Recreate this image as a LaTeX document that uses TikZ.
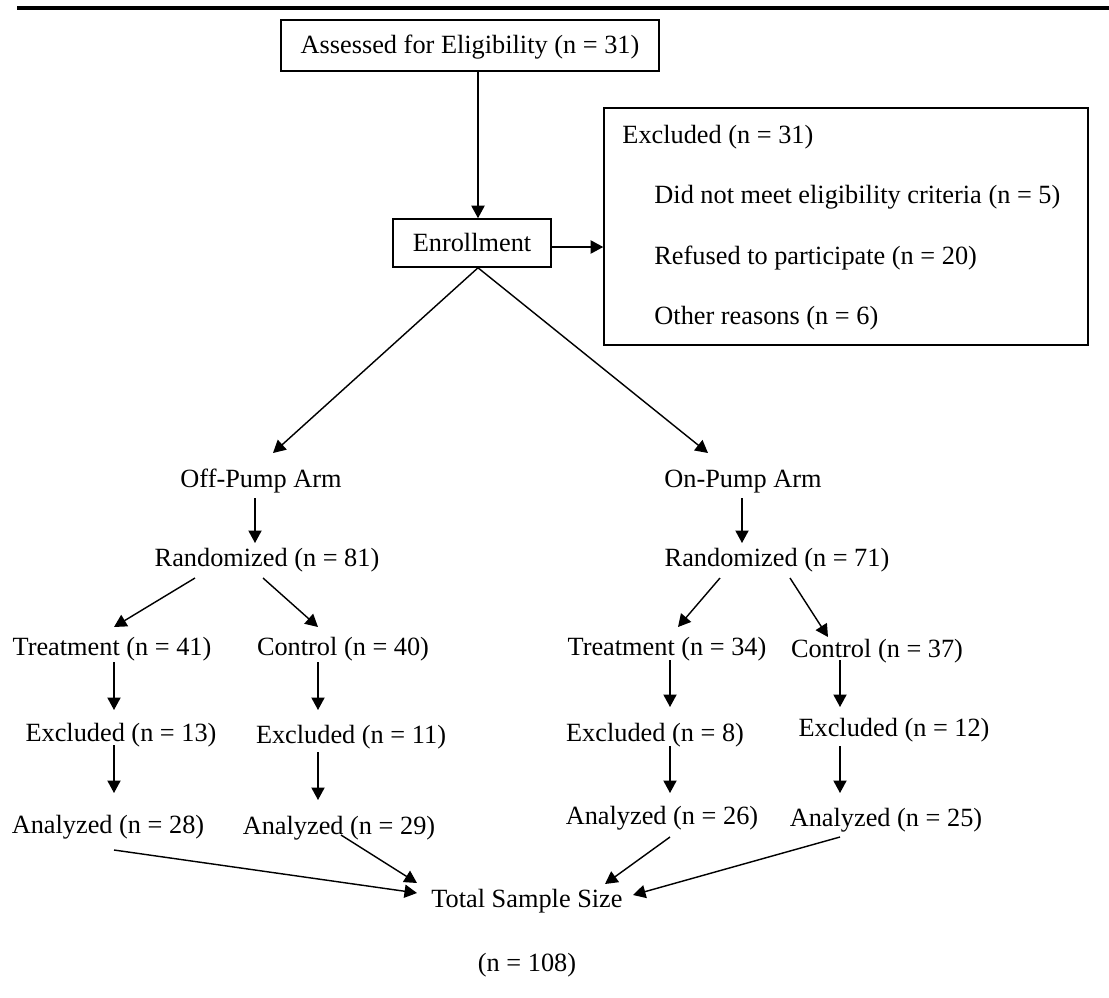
\documentclass[tikz,border=0pt]{standalone}
\usepackage{fontspec}
\setmainfont{Liberation Serif}
\usetikzlibrary{arrows.meta,calc}
\tikzset{
  txt/.style={inner sep=0pt, font=\fontsize{12}{14}\selectfont, text height=0.9em, text depth=0.17em},
  boxed/.style={txt, draw, line width=0.7pt},
  arr/.style={line width=0.65pt, -{Triangle[length=5.7pt,width=6pt]}},
}
\begin{document}
\begin{tikzpicture}[x=0.456pt,y=-0.456pt]
\useasboundingbox (0,0) rectangle (1109,997);
\draw[line width=1.4pt] (17,8) -- (1109,8);

% top part
\node[boxed, minimum width=172.4pt, minimum height=23.3pt] (assess) at (470,45.5) {Assessed for Eligibility (n = 31)};
\node[boxed, minimum width=72pt, minimum height=21.9pt] (enroll) at (472,243) {Enrollment};
\node[draw, line width=0.7pt, inner sep=0pt, minimum width=220.7pt, minimum height=108.1pt] (excl) at (846,226.5) {};
\node[txt, anchor=west] (exclA) at (622,135) {Excluded (n = 31)};
\node[txt, anchor=west] (exclB) at (654,195) {Did not meet eligibility criteria (n = 5)};
\node[txt, anchor=west] (exclC) at (654,256) {Refused to participate (n = 20)};
\node[txt, anchor=west] (exclD) at (654,316) {Other reasons (n = 6)};

% arms
\node[txt] (offarm) at (261,479) {Off-Pump Arm};
\node[txt] (onarm) at (743,479) {On-Pump Arm};
\node[txt] (rand1) at (267,558) {Randomized (n = 81)};
\node[txt] (rand2) at (777,558) {Randomized (n = 71)};
\node[txt] (treat1) at (112,647) {Treatment (n = 41)};
\node[txt] (ctrl1) at (343,647) {Control (n = 40)};
\node[txt] (treat2) at (667,647) {Treatment (n = 34)};
\node[txt] (ctrl2) at (877,649) {Control (n = 37)};
\node[txt] (exc1) at (121,733) {Excluded (n = 13)};
\node[txt] (exc2) at (351,735) {Excluded (n = 11)};
\node[txt] (exc3) at (655,733) {Excluded (n = 8)};
\node[txt] (exc4) at (894,728) {Excluded (n = 12)};
\node[txt] (an1) at (108,825) {Analyzed (n = 28)};
\node[txt] (an2) at (339,826) {Analyzed (n = 29)};
\node[txt] (an3) at (662,816) {Analyzed (n = 26)};
\node[txt] (an4) at (886,818) {Analyzed (n = 25)};
\node[txt] (total) at (527,899) {Total Sample Size};
\node[txt] (n108) at (527,963) {(n = 108)};

% connectors
\draw[arr] ($(assess.south)+(8,0)$) -- ($(enroll.north)+(6,0)$);
\draw[arr] ($(enroll.east)+(0,4)$) -- ($(excl.west)+(0,20.5)$);
\draw[arr] ($(enroll.south)+(6,0)$) -- ($(offarm)+(12,-26)$);
\draw[arr] ($(enroll.south)+(6,0)$) -- ($(onarm)+(-35,-26)$);
\draw[arr] ($(offarm)+(-6,19)$) -- ($(rand1)+(-12,-15)$);
\draw[arr] ($(onarm)+(-1,19)$) -- ($(rand2)+(-35,-15)$);
\draw[arr] ($(rand1)+(-72,20)$) -- ($(treat1)+(2,-20)$);
\draw[arr] ($(rand1)+(-4,20)$) -- ($(ctrl1)+(-25,-20)$);
\draw[arr] ($(rand2)+(-57,20)$) -- ($(treat2)+(11,-20)$);
\draw[arr] ($(rand2)+(13,20)$) -- ($(ctrl2)+(-49,-12)$);
\draw[arr] ($(treat1)+(2,15)$) -- ($(exc1)+(-7,-23)$);
\draw[arr] ($(ctrl1)+(-25,15)$) -- ($(exc2)+(-33,-25)$);
\draw[arr] ($(treat2)+(3,13)$) -- ($(exc3)+(15,-26)$);
\draw[arr] ($(ctrl2)+(-37,11)$) -- ($(exc4)+(-54,-21)$);
\draw[arr] ($(exc1)+(-7,12)$) -- ($(an1)+(6,-32)$);
\draw[arr] ($(exc2)+(-33,17)$) -- ($(an2)+(-21,-26)$);
\draw[arr] ($(exc3)+(15,13)$) -- ($(an3)+(8,-23)$);
\draw[arr] ($(exc4)+(-54,18)$) -- ($(an4)+(-46,-25)$);
\draw[arr] ($(an1)+(6,25)$) -- ($(total)+(-110,-6)$);
\draw[arr] ($(an2)+(2,9)$) -- ($(total)+(-110,-16)$);
\draw[arr] ($(an3)+(8,21)$) -- ($(total)+(78,-15)$);
\draw[arr] ($(an4)+(-46,19)$) -- ($(total)+(106,-4)$);
\end{tikzpicture}
\end{document}
